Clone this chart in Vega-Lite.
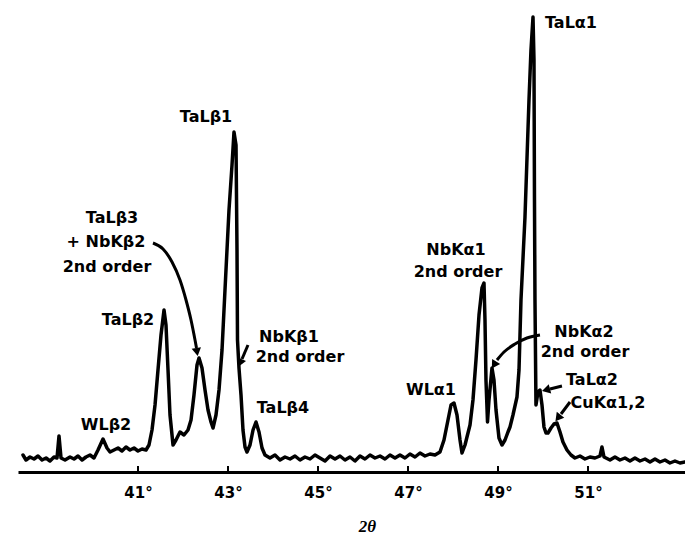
{
  "$schema": "https://vega.github.io/schema/vega-lite/v6.json",
  "width": 667,
  "height": 462,
  "padding": {"left": 18, "top": 10, "right": 0, "bottom": 0},
  "background": "white",
  "config": {"view": {"stroke": null}, "font": "DejaVu Sans"},
  "datasets": {
    "spectrum": [
      {"t": 38.444, "i": 17}, {"t": 38.511, "i": 12}, {"t": 38.6, "i": 15}, {"t": 38.689, "i": 13},
      {"t": 38.778, "i": 16}, {"t": 38.867, "i": 12}, {"t": 38.956, "i": 14}, {"t": 39.044, "i": 11},
      {"t": 39.133, "i": 15}, {"t": 39.2, "i": 14}, {"t": 39.244, "i": 36}, {"t": 39.289, "i": 14},
      {"t": 39.378, "i": 12}, {"t": 39.489, "i": 15}, {"t": 39.578, "i": 13}, {"t": 39.667, "i": 16},
      {"t": 39.756, "i": 12}, {"t": 39.844, "i": 15}, {"t": 39.933, "i": 17}, {"t": 40.022, "i": 14},
      {"t": 40.111, "i": 22}, {"t": 40.222, "i": 33}, {"t": 40.311, "i": 24}, {"t": 40.378, "i": 20},
      {"t": 40.467, "i": 22}, {"t": 40.556, "i": 24}, {"t": 40.644, "i": 21}, {"t": 40.733, "i": 25},
      {"t": 40.822, "i": 22}, {"t": 40.911, "i": 24}, {"t": 41.0, "i": 21}, {"t": 41.089, "i": 23},
      {"t": 41.178, "i": 22}, {"t": 41.244, "i": 27}, {"t": 41.311, "i": 42}, {"t": 41.378, "i": 67},
      {"t": 41.444, "i": 102}, {"t": 41.511, "i": 137}, {"t": 41.578, "i": 162}, {"t": 41.622, "i": 147},
      {"t": 41.667, "i": 102}, {"t": 41.711, "i": 57}, {"t": 41.778, "i": 27}, {"t": 41.844, "i": 32},
      {"t": 41.933, "i": 40}, {"t": 42.022, "i": 37}, {"t": 42.111, "i": 42}, {"t": 42.178, "i": 52},
      {"t": 42.244, "i": 77}, {"t": 42.311, "i": 107}, {"t": 42.356, "i": 114}, {"t": 42.422, "i": 104},
      {"t": 42.489, "i": 82}, {"t": 42.556, "i": 62}, {"t": 42.622, "i": 50}, {"t": 42.667, "i": 44},
      {"t": 42.733, "i": 57}, {"t": 42.8, "i": 82}, {"t": 42.867, "i": 122}, {"t": 42.933, "i": 182},
      {"t": 43.022, "i": 262}, {"t": 43.089, "i": 307}, {"t": 43.133, "i": 340}, {"t": 43.178, "i": 327},
      {"t": 43.2, "i": 222}, {"t": 43.211, "i": 132}, {"t": 43.244, "i": 104}, {"t": 43.289, "i": 77},
      {"t": 43.333, "i": 42}, {"t": 43.378, "i": 25}, {"t": 43.422, "i": 20}, {"t": 43.489, "i": 27},
      {"t": 43.556, "i": 42}, {"t": 43.622, "i": 50}, {"t": 43.689, "i": 40}, {"t": 43.756, "i": 24},
      {"t": 43.822, "i": 17}, {"t": 43.933, "i": 14}, {"t": 44.044, "i": 17}, {"t": 44.156, "i": 12},
      {"t": 44.267, "i": 15}, {"t": 44.378, "i": 13}, {"t": 44.489, "i": 16}, {"t": 44.6, "i": 12},
      {"t": 44.711, "i": 15}, {"t": 44.822, "i": 13}, {"t": 44.933, "i": 17}, {"t": 45.044, "i": 14},
      {"t": 45.156, "i": 11}, {"t": 45.267, "i": 16}, {"t": 45.378, "i": 13}, {"t": 45.489, "i": 16},
      {"t": 45.6, "i": 12}, {"t": 45.711, "i": 15}, {"t": 45.822, "i": 11}, {"t": 45.933, "i": 16},
      {"t": 46.044, "i": 13}, {"t": 46.156, "i": 17}, {"t": 46.267, "i": 14}, {"t": 46.378, "i": 16},
      {"t": 46.489, "i": 13}, {"t": 46.6, "i": 17}, {"t": 46.711, "i": 14}, {"t": 46.822, "i": 17},
      {"t": 46.933, "i": 14}, {"t": 47.044, "i": 18}, {"t": 47.156, "i": 15}, {"t": 47.267, "i": 19},
      {"t": 47.378, "i": 16}, {"t": 47.489, "i": 18}, {"t": 47.6, "i": 17}, {"t": 47.711, "i": 20},
      {"t": 47.8, "i": 32}, {"t": 47.889, "i": 52}, {"t": 47.956, "i": 67}, {"t": 48.022, "i": 69},
      {"t": 48.089, "i": 57}, {"t": 48.156, "i": 32}, {"t": 48.2, "i": 19}, {"t": 48.267, "i": 27},
      {"t": 48.311, "i": 35}, {"t": 48.378, "i": 47}, {"t": 48.444, "i": 72}, {"t": 48.511, "i": 112},
      {"t": 48.578, "i": 157}, {"t": 48.644, "i": 184}, {"t": 48.689, "i": 189}, {"t": 48.711, "i": 152},
      {"t": 48.733, "i": 92}, {"t": 48.767, "i": 50}, {"t": 48.8, "i": 72}, {"t": 48.867, "i": 104},
      {"t": 48.911, "i": 92}, {"t": 48.956, "i": 62}, {"t": 49.022, "i": 34}, {"t": 49.089, "i": 27},
      {"t": 49.156, "i": 32}, {"t": 49.222, "i": 40}, {"t": 49.267, "i": 45}, {"t": 49.333, "i": 57},
      {"t": 49.422, "i": 75}, {"t": 49.467, "i": 102}, {"t": 49.511, "i": 172}, {"t": 49.6, "i": 255},
      {"t": 49.689, "i": 372}, {"t": 49.733, "i": 422}, {"t": 49.778, "i": 455}, {"t": 49.8, "i": 412},
      {"t": 49.811, "i": 272}, {"t": 49.822, "i": 172}, {"t": 49.844, "i": 67}, {"t": 49.889, "i": 80},
      {"t": 49.933, "i": 82}, {"t": 49.978, "i": 67}, {"t": 50.022, "i": 45}, {"t": 50.067, "i": 39},
      {"t": 50.111, "i": 39}, {"t": 50.178, "i": 44}, {"t": 50.244, "i": 48}, {"t": 50.311, "i": 49},
      {"t": 50.378, "i": 40}, {"t": 50.444, "i": 30}, {"t": 50.533, "i": 22}, {"t": 50.622, "i": 17},
      {"t": 50.711, "i": 14}, {"t": 50.822, "i": 16}, {"t": 50.933, "i": 13}, {"t": 51.044, "i": 15},
      {"t": 51.156, "i": 14}, {"t": 51.267, "i": 16}, {"t": 51.311, "i": 25}, {"t": 51.356, "i": 15},
      {"t": 51.489, "i": 12}, {"t": 51.6, "i": 15}, {"t": 51.711, "i": 12}, {"t": 51.822, "i": 14},
      {"t": 51.933, "i": 11}, {"t": 52.044, "i": 14}, {"t": 52.156, "i": 11}, {"t": 52.267, "i": 13},
      {"t": 52.378, "i": 10}, {"t": 52.489, "i": 13}, {"t": 52.6, "i": 10}, {"t": 52.711, "i": 12},
      {"t": 52.822, "i": 9}, {"t": 52.933, "i": 11}, {"t": 53.044, "i": 9}, {"t": 53.156, "i": 10}
    ],
    "labels": [
      {"label": "TaLβ1", "t": 42.511, "i": 355},
      {"label": "TaLβ3", "t": 40.422, "i": 254},
      {"label": "+ NbKβ2", "t": 40.289, "i": 230},
      {"label": "2nd order", "t": 40.311, "i": 205},
      {"label": "TaLβ2", "t": 40.778, "i": 152},
      {"label": "NbKβ1", "t": 44.356, "i": 135},
      {"label": "2nd order", "t": 44.6, "i": 115},
      {"label": "TaLβ4", "t": 44.222, "i": 64},
      {"label": "WLβ2", "t": 40.289, "i": 47},
      {"label": "TaLα1", "t": 50.622, "i": 449},
      {"label": "NbKα1", "t": 48.067, "i": 222},
      {"label": "2nd order", "t": 48.111, "i": 200},
      {"label": "WLα1", "t": 47.511, "i": 82},
      {"label": "NbKα2", "t": 50.911, "i": 140},
      {"label": "2nd order", "t": 50.933, "i": 120},
      {"label": "TaLα2", "t": 51.089, "i": 92},
      {"label": "CuKα1,2", "t": 51.444, "i": 69}
    ],
    "arrows": [
      {"id": "a1", "t": 41.333, "i": 229}, {"id": "a1", "t": 41.556, "i": 223}, {"id": "a1", "t": 41.756, "i": 210},
      {"id": "a1", "t": 41.933, "i": 192}, {"id": "a1", "t": 42.067, "i": 172}, {"id": "a1", "t": 42.178, "i": 152},
      {"id": "a1", "t": 42.267, "i": 132}, {"id": "a1", "t": 42.3, "i": 124},
      {"id": "a2", "t": 43.444, "i": 127}, {"id": "a2", "t": 43.311, "i": 113},
      {"id": "a3", "t": 49.933, "i": 137}, {"id": "a3", "t": 49.644, "i": 134}, {"id": "a3", "t": 49.378, "i": 128},
      {"id": "a3", "t": 49.133, "i": 120}, {"id": "a3", "t": 48.978, "i": 112},
      {"id": "a4", "t": 50.422, "i": 86}, {"id": "a4", "t": 50.156, "i": 83},
      {"id": "a5", "t": 50.6, "i": 70}, {"id": "a5", "t": 50.4, "i": 58}
    ],
    "heads": [
      {"t": 42.311, "i": 120, "a": 350},
      {"t": 43.267, "i": 109, "a": 23},
      {"t": 48.911, "i": 107, "a": 32},
      {"t": 50.067, "i": 82, "a": 75},
      {"t": 50.333, "i": 54, "a": 38}
    ],
    "ticks": [
      {"t": 41, "i0": 0, "i1": 6}, {"t": 43, "i0": 0, "i1": 6}, {"t": 45, "i0": 0, "i1": 6},
      {"t": 47, "i0": 0, "i1": 6}, {"t": 49, "i0": 0, "i1": 6}, {"t": 51, "i0": 0, "i1": 6}
    ]
  },
  "layer": [
    {
      "data": {"name": "spectrum"},
      "mark": {"type": "line", "color": "black", "strokeWidth": 3.5, "strokeJoin": "round", "strokeCap": "round"},
      "encoding": {
        "x": {
          "field": "t", "type": "quantitative",
          "scale": {"domain": [38.333, 53.156], "nice": false, "zero": false},
          "axis": {
            "values": [41, 43, 45, 47, 49, 51],
            "labelExpr": "datum.value + '°'",
            "grid": false,
            "domainColor": "black", "domainWidth": 3,
            "ticks": false,
            "labelFont": "DejaVu Sans", "labelFontWeight": "bold", "labelFontSize": 15, "labelColor": "black",
            "labelPadding": 13,
            "title": "2θ", "titleFont": "Liberation Serif", "titleFontStyle": "italic", "titleFontWeight": "bold",
            "titleFontSize": 17, "titleColor": "black", "titlePadding": 18, "titleX": 349
          }
        },
        "y": {
          "field": "i", "type": "quantitative",
          "scale": {"domain": [0, 462], "nice": false},
          "axis": null
        }
      }
    },
    {
      "data": {"name": "ticks"},
      "mark": {"type": "rule", "color": "black", "strokeWidth": 2},
      "encoding": {
        "x": {"field": "t", "type": "quantitative"},
        "y": {"field": "i0", "type": "quantitative"},
        "y2": {"field": "i1"}
      }
    },
    {
      "data": {"name": "arrows"},
      "mark": {"type": "line", "color": "black", "strokeWidth": 3, "interpolate": "monotone"},
      "encoding": {
        "x": {"field": "t", "type": "quantitative"},
        "y": {"field": "i", "type": "quantitative"},
        "detail": {"field": "id"}
      }
    },
    {
      "data": {"name": "heads"},
      "mark": {"type": "point", "shape": "triangle-down", "filled": true, "color": "black", "size": 90, "opacity": 1},
      "encoding": {
        "x": {"field": "t", "type": "quantitative"},
        "y": {"field": "i", "type": "quantitative"},
        "angle": {"field": "a", "type": "quantitative", "scale": null}
      }
    },
    {
      "data": {"name": "labels"},
      "mark": {"type": "text", "font": "DejaVu Sans", "fontWeight": "bold", "fontSize": 16, "color": "black", "align": "center", "baseline": "middle"},
      "encoding": {
        "x": {"field": "t", "type": "quantitative"},
        "y": {"field": "i", "type": "quantitative"},
        "text": {"field": "label"}
      }
    }
  ]
}
